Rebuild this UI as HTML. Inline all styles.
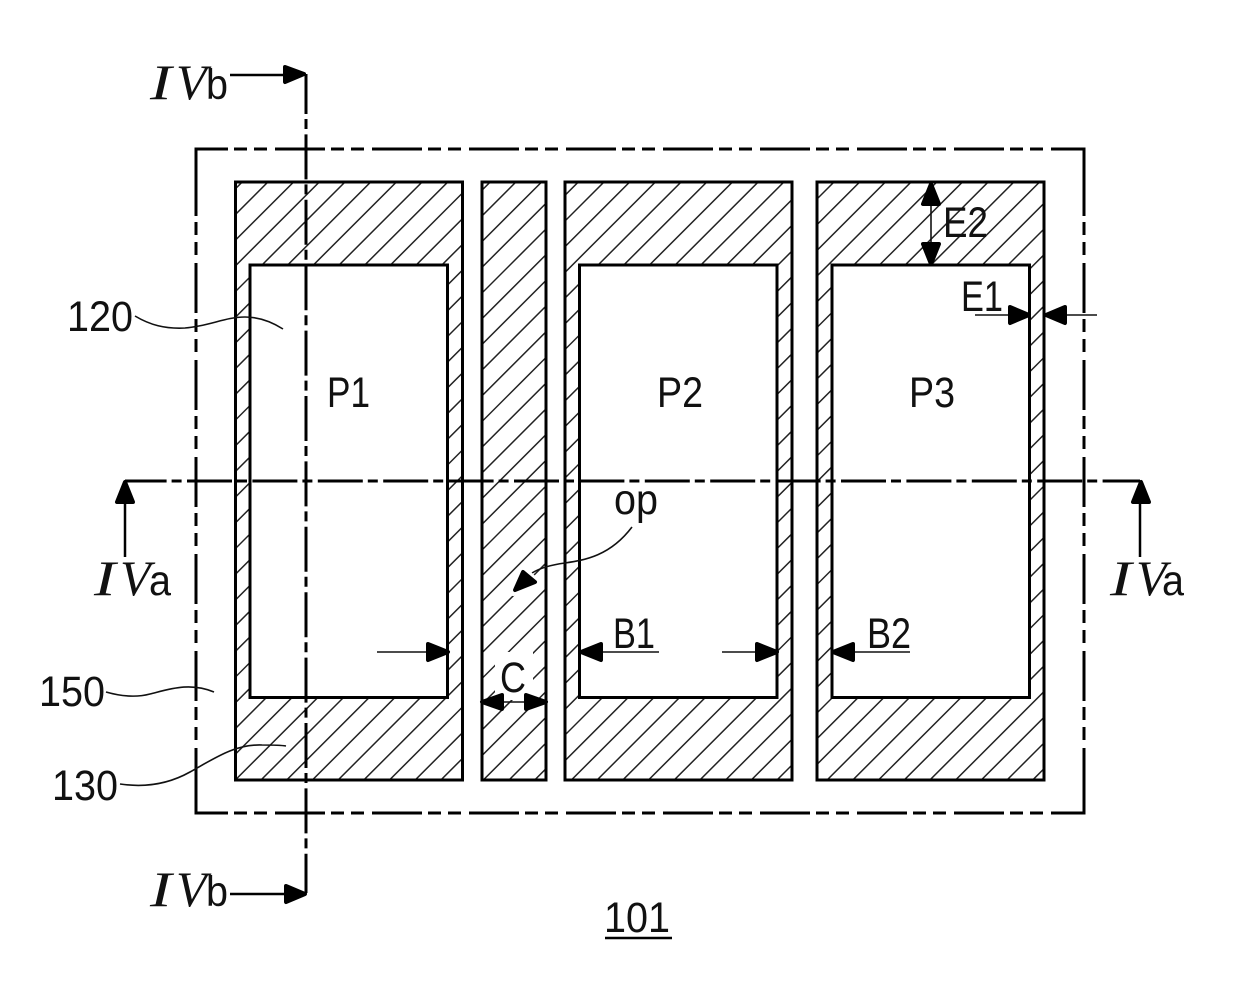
<!DOCTYPE html>
<html>
<head>
<meta charset="utf-8">
<style>
html,body{margin:0;padding:0;background:#fff;width:1240px;height:994px;overflow:hidden}
svg{display:block}
text{font-family:"Liberation Sans",sans-serif;font-size:43px;fill:#111}
.s{font-family:"Liberation Serif",serif;font-style:italic;font-size:50px}
.m{fill:none;stroke:#000;stroke-width:3}
.t{fill:none;stroke:#111;stroke-width:1.6}
.a{fill:#000;stroke:#000;stroke-width:4;stroke-linejoin:round}
.h{fill:none;stroke:#222;stroke-width:1.5}
</style>
</head>
<body>
<svg width="1240" height="994" viewBox="0 0 1240 994" xmlns="http://www.w3.org/2000/svg">
<defs>
<path id="fam" d="M0 100l-700 700m725.7 -700l-700 700m725.7 -700l-700 700m725.7 -700l-700 700m725.7 -700l-700 700m725.7 -700l-700 700m725.7 -700l-700 700m725.7 -700l-700 700m725.7 -700l-700 700m725.7 -700l-700 700m725.7 -700l-700 700m725.7 -700l-700 700m725.7 -700l-700 700m725.7 -700l-700 700m725.7 -700l-700 700m725.7 -700l-700 700m725.7 -700l-700 700m725.7 -700l-700 700m725.7 -700l-700 700m725.7 -700l-700 700m725.7 -700l-700 700m725.7 -700l-700 700m725.7 -700l-700 700m725.7 -700l-700 700m725.7 -700l-700 700m725.7 -700l-700 700m725.7 -700l-700 700m725.7 -700l-700 700m725.7 -700l-700 700m725.7 -700l-700 700m725.7 -700l-700 700m725.7 -700l-700 700m725.7 -700l-700 700m725.7 -700l-700 700m725.7 -700l-700 700"/>
<clipPath id="c1"><rect x="235.500" y="182" width="227" height="598"/></clipPath>
<clipPath id="c2"><rect x="482" y="182" width="64" height="598"/></clipPath>
<clipPath id="c3"><rect x="565" y="182" width="227" height="598"/></clipPath>
<clipPath id="c4"><rect x="817" y="182" width="227" height="598"/></clipPath>
</defs>
<rect width="1240" height="994" fill="#fff"/>

<!-- hatched columns -->
<g clip-path="url(#c1)"><use href="#fam" x="298.500" class="h"/></g>
<g clip-path="url(#c2)"><use href="#fam" x="546.500" class="h"/></g>
<g clip-path="url(#c3)"><use href="#fam" x="634.600" class="h"/></g>
<g clip-path="url(#c4)"><use href="#fam" x="890.300" class="h"/></g>
<rect x="250" y="265" width="197.500" height="432.500" fill="#fff"/>
<rect x="579.500" y="265" width="197.500" height="432.500" fill="#fff"/>
<rect x="832" y="265" width="197.500" height="432.500" fill="#fff"/>

<!-- hatch knock-out around C -->
<rect x="495" y="652" width="38" height="48" fill="#fff"/>

<rect x="235.500" y="182" width="227" height="598" class="m"/>
<rect x="482" y="182" width="64" height="598" class="m"/>
<rect x="565" y="182" width="227" height="598" class="m"/>
<rect x="817" y="182" width="227" height="598" class="m"/>
<rect x="250" y="265" width="197.500" height="432.500" class="m"/>
<rect x="579.500" y="265" width="197.500" height="432.500" class="m"/>
<rect x="832" y="265" width="197.500" height="432.500" class="m"/>

<!-- outer dash-dot boundary -->
<g class="m" stroke-dasharray="50 6 13 7 13 8">
<path d="M196 149H1084" stroke-dashoffset="18"/>
<path d="M196 813H1084" stroke-dashoffset="18"/>
<path d="M196 149V813" stroke-dashoffset="80"/>
<path d="M1084 149V813" stroke-dashoffset="80"/>
</g>
<path d="M196 149V216M1084 149V216M196 748V813M1084 748V813M1051 149H1084M1051 813H1084" class="m"/>
<path d="M194.500 149H198M1082.500 149H1085.500M194.500 813H198M1082.500 813H1085.500" class="m"/>

<!-- section lines -->
<path d="M125 481H1140" class="m" stroke-dasharray="45 5 10 5.400" stroke-dashoffset="3.400"/>
<path d="M306 74V893" class="m" stroke-dasharray="45 5 10 5.400" stroke-dashoffset="5"/>

<!-- section arrows -->
<path d="M230 75H288" class="m" style="stroke-width:2.500"/>
<polygon points="285,67 304,74 285,82" class="a"/>
<path d="M230 894H288" class="m" style="stroke-width:2.500"/>
<polygon points="286,886 305,894 286,902" class="a"/>
<path d="M125 498V557" class="m" style="stroke-width:2.500"/>
<polygon points="125,482 117,502 133,502" class="a"/>
<path d="M1140 498V557" class="m" style="stroke-width:2.500"/>
<polygon points="1141,482 1133,502 1149,502" class="a"/>

<!-- dimension arrows -->
<path d="M377 652H430" class="t"/>
<polygon points="428,644 448,652 428,660" class="a"/>
<path d="M600 652H659" class="t"/>
<polygon points="601,644 581,652 601,660" class="a"/>
<path d="M722 652H760" class="t"/>
<polygon points="757,644 777,652 757,660" class="a"/>
<path d="M852 652H910" class="t"/>
<polygon points="853,644 833,652 853,660" class="a"/>
<path d="M500 702H530" class="t"/>
<polygon points="502,695 482,702 502,709" class="a"/>
<polygon points="526,695 546,702 526,709" class="a"/>
<path d="M931 200V248" class="t"/>
<polygon points="931,184 923,204 939,204" class="a"/>
<polygon points="931,264 923,244 939,244" class="a"/>
<path d="M975 315H1012" class="t"/>
<polygon points="1010,307 1029,315 1010,323" class="a"/>
<path d="M1062 315H1097" class="t"/>
<polygon points="1065,307 1046,315 1065,323" class="a"/>

<!-- op leader -->
<path d="M632 527C610 556 585 560 565 563C550 565 540 568 532 573" class="t"/>
<polygon points="523,570 537,583 513,592" fill="#fff" stroke="#fff" stroke-width="8" stroke-linejoin="round"/>
<polygon points="523,572 535,582 515,590" class="a"/>

<!-- wavy leaders -->
<path d="M135 316C150 325 165 329 185 328C210 326 225 317 245 317C260 317 272 322 283 329" class="t"/>
<path d="M106 692C120 696 135 698 150 694C170 689 190 682 214 692" class="t"/>
<path d="M120 784C140 787 165 786 190 772C215 758 235 744 262 745C270 745 280 745 286 746" class="t"/>

<!-- labels -->
<text class="s" transform="translate(150 99) scale(1.3 1)">I</text><text class="s" x="176" y="99">V</text><text x="206" y="99" textLength="22" lengthAdjust="spacingAndGlyphs">b</text>
<text class="s" transform="translate(150 906) scale(1.3 1)">I</text><text class="s" x="176" y="906">V</text><text x="206" y="906" textLength="22" lengthAdjust="spacingAndGlyphs">b</text>
<text class="s" transform="translate(94 595) scale(1.3 1)">I</text><text class="s" x="120" y="595">V</text><text x="149" y="595" textLength="22" lengthAdjust="spacingAndGlyphs">a</text>
<text class="s" transform="translate(1110 595) scale(1.3 1)">I</text><text class="s" x="1136" y="595">V</text><text x="1162" y="595" textLength="22" lengthAdjust="spacingAndGlyphs">a</text>
<text x="67" y="331" textLength="66" lengthAdjust="spacingAndGlyphs">120</text>
<text x="39" y="706" textLength="66" lengthAdjust="spacingAndGlyphs">150</text>
<text x="52" y="800" textLength="66" lengthAdjust="spacingAndGlyphs">130</text>
<text x="327" y="407" textLength="43" lengthAdjust="spacingAndGlyphs">P1</text>
<text x="657" y="407" textLength="46" lengthAdjust="spacingAndGlyphs">P2</text>
<text x="909" y="407" textLength="46" lengthAdjust="spacingAndGlyphs">P3</text>
<text x="943" y="237" textLength="45" lengthAdjust="spacingAndGlyphs">E2</text>
<text x="961" y="311" textLength="42" lengthAdjust="spacingAndGlyphs">E1</text>
<text x="613" y="648" textLength="42" lengthAdjust="spacingAndGlyphs">B1</text>
<text x="867" y="648" textLength="44" lengthAdjust="spacingAndGlyphs">B2</text>
<text x="500" y="692" textLength="26" lengthAdjust="spacingAndGlyphs">C</text>
<text x="614" y="514" textLength="44" lengthAdjust="spacingAndGlyphs">op</text>
<text x="604" y="932" textLength="66" lengthAdjust="spacingAndGlyphs">101</text>
<path d="M605 938H672" class="m" style="stroke-width:2.400"/>
</svg>
</body>
</html>
